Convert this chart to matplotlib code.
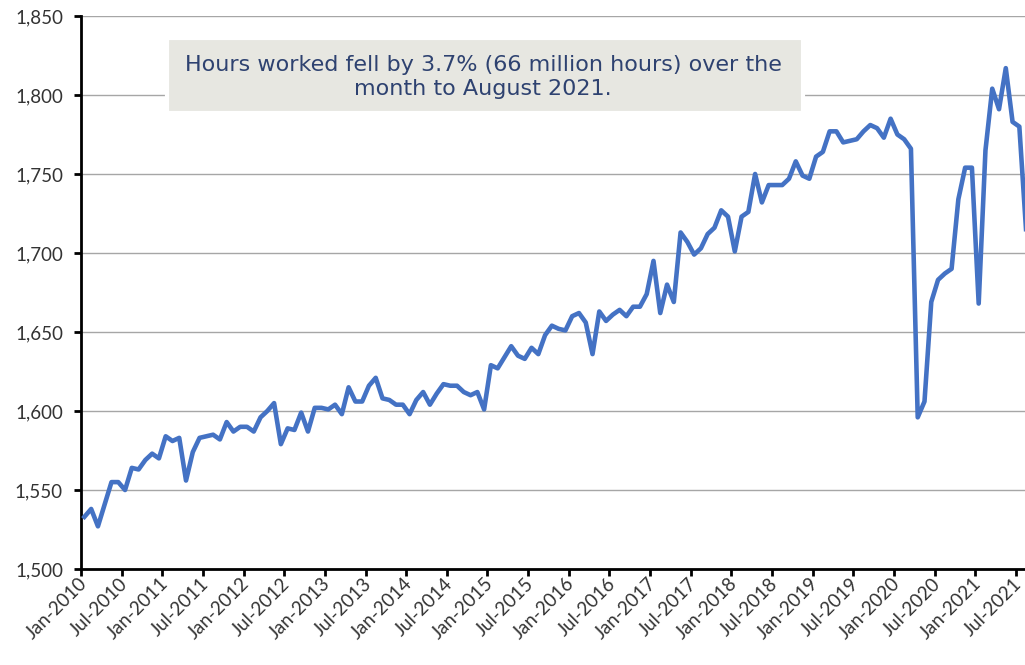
import numpy as np
import pandas as pd
import matplotlib.pyplot as plt
from matplotlib.patches import Rectangle
from matplotlib.ticker import FuncFormatter
from matplotlib.transforms import ScaledTranslation, blended_transform_factory

plt.rcParams["font.family"] = ["Lato", "DejaVu Sans"]

# monthly hours worked (millions), Jan-2010 to Aug-2021
hours = [
    1533, 1538, 1527, 1541, 1555, 1555, 1550, 1564, 1563, 1569, 1573, 1570,
    1584, 1581, 1583, 1556, 1574, 1583, 1584, 1585, 1582, 1593, 1587, 1590,
    1590, 1587, 1596, 1600, 1605, 1579, 1589, 1588, 1599, 1587, 1602, 1602,
    1601, 1604, 1598, 1615, 1606, 1606, 1616, 1621, 1608, 1607, 1604, 1604,
    1598, 1607, 1612, 1604, 1611, 1617, 1616, 1616, 1612, 1610, 1612, 1601,
    1629, 1627, 1634, 1641, 1635, 1633, 1640, 1636, 1648, 1654, 1652, 1651,
    1660, 1662, 1656, 1636, 1663, 1657, 1661, 1664, 1660, 1666, 1666, 1674,
    1695, 1662, 1680, 1669, 1713, 1707, 1699, 1703, 1712, 1716, 1727, 1723,
    1701, 1723, 1726, 1750, 1732, 1743, 1743, 1743, 1747, 1758, 1749, 1747,
    1761, 1764, 1777, 1777, 1770, 1771, 1772, 1777, 1781, 1779, 1773, 1785,
    1775, 1772, 1766, 1596, 1606, 1669, 1683, 1687, 1690, 1734, 1754, 1754,
    1668, 1765, 1804, 1791, 1817, 1783, 1780, 1714,
]
months = pd.date_range("2010-01-01", periods=len(hours), freq="MS")
tick_labels = [m.strftime("%b-%Y") for m in months[::6]]
note = "Hours worked fell by 3.7% (66 million hours) over the\nmonth to August 2021."

fig = plt.figure(figsize=(10.25, 6.65), dpi=100)
# plot area runs a little past the right edge (chart is cropped)
ax = fig.add_axes([81 / 1025, 1 - 569 / 665, (1029.5 - 81) / 1025, 553 / 665])

x = np.arange(len(hours))
ax.plot(x, hours, color="#4472C4", lw=3.3, solid_joinstyle="round", zorder=3)

ax.set_xlim(-0.5, len(hours) - 0.5)
ax.set_ylim(1500, 1850)
ax.set_yticks(range(1500, 1851, 50))
ax.yaxis.set_major_formatter(FuncFormatter(lambda v, p: f"{v:,.0f}"))
tick_pos = np.arange(0, len(hours), 6) - 0.5
ax.set_xticks(tick_pos)
ax.set_xticklabels([])

# rotated month labels hanging from each tick
trans = blended_transform_factory(ax.transData, ax.transAxes) + \
    ScaledTranslation(3 / 100, -12 / 100, fig.dpi_scale_trans)
for p, lab in zip(tick_pos, tick_labels):
    ax.text(p, 0, lab, transform=trans, rotation=45, ha="right", va="center",
            rotation_mode="anchor", fontsize=13.5, color="#333333", clip_on=False)

ax.grid(axis="y", color="#a6a6a6", lw=1)
ax.set_axisbelow(True)
for s in ["top", "right"]:
    ax.spines[s].set_visible(False)
for s in ["left", "bottom"]:
    ax.spines[s].set_linewidth(2)
ax.tick_params(direction="out", length=5, width=2, labelsize=13.5, labelcolor="#333333")
ax.tick_params(axis="y", pad=8)

##text box
rect = Rectangle((167 / 1025, 1 - 113 / 665), 636 / 1025, 75 / 665,
                 transform=fig.transFigure, facecolor="#E7E7E1",
                 edgecolor="white", lw=3, zorder=5)
fig.add_artist(rect)
fig.text(483 / 1025, 1 - 77 / 665, note, ha="center", va="center",
         fontsize=16, color="#2E4270", linespacing=1.25, zorder=6,
         family="DejaVu Sans")

fig.savefig("out.png", dpi=100)
